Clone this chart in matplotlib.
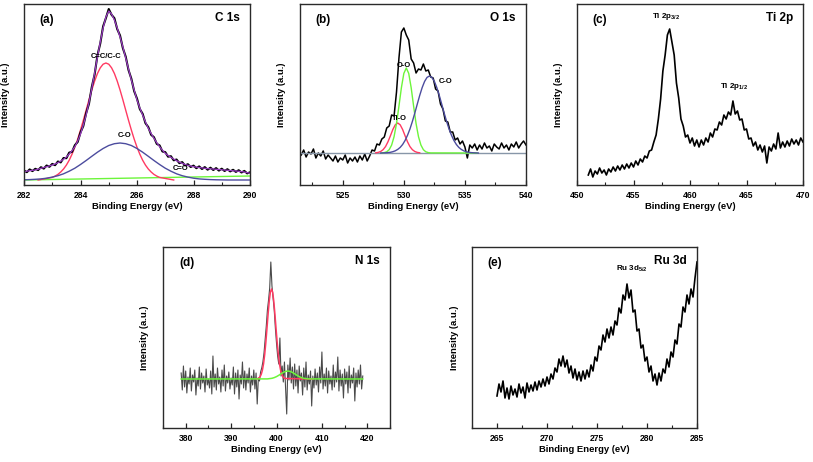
import matplotlib
matplotlib.use("Agg")
import matplotlib.pyplot as plt
import numpy as np
from matplotlib.ticker import MultipleLocator

plt.rcParams['font.family'] = ['Liberation Sans', 'DejaVu Sans']
plt.rcParams['font.weight'] = 'bold'
plt.rcParams['axes.labelweight'] = 'bold'
plt.rcParams['mathtext.fontset'] = 'custom'
plt.rcParams['mathtext.rm'] = 'Liberation Sans:bold'
plt.rcParams['mathtext.default'] = 'rm'

# ---- (a) C 1s ----
c1s_counts = [14.5, 12.8, 15.6, 13.9, 16.2, 14.9, 17.8, 16.4, 19.5, 18.2,
              21.1, 19.8, 23.5, 22.6, 27.0, 26.8, 32.4, 33.1, 39.8, 43.0,
              52.6, 59.0, 71.8, 81.2, 98.1, 110.6, 129.7, 141.5, 158.6, 167.0,
              176.0, 170.2, 166.8, 155.9, 149.5, 136.8, 128.4, 114.9, 106.3, 93.8,
              86.4, 75.9, 71.2, 61.8, 57.9, 50.2, 47.8, 41.1, 39.6, 33.5,
              32.9, 28.3, 28.8, 24.7, 25.5, 21.8, 22.9, 19.5, 20.8, 18.0,
              19.4, 16.8, 18.6, 16.0, 17.9, 15.3, 17.3, 15.0, 16.9, 14.4,
              16.3, 14.0, 15.8, 13.6, 15.2, 13.1, 14.8, 12.5, 14.1, 11.6,
              12.7]
c1s_envelope = [13.3, 13.8, 14.3, 14.7, 15.0, 15.8, 16.7, 17.5, 18.3, 19.1,
                20.0, 21.0, 22.3, 23.8, 25.7, 28.0, 31.0, 34.3, 38.3, 44.0,
                51.0, 60.0, 70.0, 82.5, 96.7, 112, 128, 143, 157, 168,
                174, 171, 165, 157, 148, 138, 127, 116, 105, 95,
                85, 77, 70, 63, 56.7, 51.5, 46.7, 42.3, 38.3, 34.8,
                31.7, 29.5, 27.7, 25.9, 24.3, 22.9, 21.7, 20.6, 19.7, 19.0,
                18.3, 17.9, 17.5, 17.1, 16.7, 16.4, 16.2, 16.0, 15.7, 15.5,
                15.2, 15.0, 14.7, 14.5, 14.2, 14.0, 13.7, 13.4, 13.0, 12.4,
                11.7]
c1s_cc = [5.0,
          7.6, 8.9, 10.6, 13.0, 16.0, 19.9, 24.8, 30.8, 37.8, 45.9,
          55.0, 64.7, 74.9, 85.2, 95.0, 103.9, 111.5, 117.2, 120.8, 122.0,
          120.8, 117.2, 111.5, 103.9, 95.0, 85.2, 74.9, 64.7, 55.0, 45.9,
          37.8, 30.8, 24.8, 19.9, 16.0, 13.0, 10.6, 8.9, 7.6,
          5.0]
c1s_co = [5.2, 5.4, 5.7, 6.1, 6.8, 7.9, 9.3, 11.2, 13.8, 16.8,
          20.5, 24.5, 28.7, 32.8, 36.5, 39.5, 41.3, 42.0, 41.3, 39.5,
          36.5, 32.8, 28.7, 24.5, 20.5, 16.8, 13.8, 11.2, 9.3, 7.9,
          6.8, 6.1, 5.7, 5.4, 5.2, 5.1, 5.0, 5.0, 5.0, 5.0,
          5.0]
c1s_bg_energy = [282.0, 290.0]
c1s_bg = [5.0, 9.0]

# ---- (b) O 1s ----
o1s_counts = [30, 35, 28, 33, 31, 36, 27, 32, 29, 34,
              26, 30, 27, 24, 29, 23, 27, 25, 30, 22,
              27, 24, 28, 23, 29, 25, 31, 24, 29, 35,
              34, 41, 40, 46, 48, 57, 59, 70, 69, 93,
              127, 153, 157, 150, 145, 126, 122, 112, 116, 115,
              121, 114, 115, 108, 107, 96, 94, 81, 76, 64,
              63, 53, 53, 45, 47, 41, 44, 38, 27, 40,
              37, 41, 35, 40, 36, 42, 37, 39, 34, 41,
              38, 36, 42, 37, 40, 35, 41, 38, 43, 37,
              41, 44, 40]
o1s_tio = [32.2, 32.6, 33.5, 35.3, 38.4, 43.2, 49.2, 55.5, 60.2, 62.0,
           60.2, 55.5, 49.2, 43.2, 38.4, 35.3, 33.5, 32.6, 32.2]
o1s_oo = [32.1, 32.4, 33.2, 35.3, 39.9, 48.3, 61.5, 78.9, 97.3, 111.6, 117.0,
          111.6, 97.3, 78.9, 61.5, 48.3, 39.9, 35.3, 33.2, 32.4, 32.1, 32.0]
o1s_co = [32.0, 32.1, 32.2, 32.4, 32.7, 33.3, 34.2, 35.6, 37.6, 40.5,
          44.5, 49.7, 56.0, 63.6, 72.0, 80.9, 89.6, 97.4, 103.6, 107.6, 109.0,
          107.6, 103.6, 97.4, 89.6, 80.9, 72.0, 63.6, 56.0, 49.7, 44.5,
          40.5, 37.6, 35.6, 34.2, 33.3, 32.7, 32.4, 32.2, 32.1, 32.0]
o1s_bg_energy = [521.5, 540.0]
o1s_bg = [32.0, 32.0]

# ---- (c) Ti 2p ----
ti2p_counts = [10, 16, 8, 14, 11, 17, 12, 15, 10, 16,
               13, 18, 14, 19, 15, 20, 16, 21, 17, 22,
               18, 24, 20, 26, 23, 29, 27, 34, 35, 43,
               50, 66, 86, 114, 130, 150, 156, 143, 130, 102,
               87, 66, 59, 48, 50, 42, 47, 39, 45, 38,
               45, 40, 47, 43, 52, 48, 56, 55, 63, 60,
               70, 66, 73, 70, 84, 71, 74, 65, 66, 55,
               56, 46, 47, 39, 43, 35, 40, 33, 39, 22,
               38, 34, 41, 36, 52, 37, 43, 38, 44, 39,
               46, 41, 45, 40, 47, 43]

# ---- (d) N 1s ----
n1s_counts = [55, 38, 62, 41, 57, 35, 51, 44, 60, 37,
              53, 46, 58, 33, 50, 42, 61, 39, 55, 45,
              52, 36, 59, 43, 49, 40, 57, 34, 72, 41,
              54, 38, 60, 44, 51, 36, 58, 42, 63, 37,
              52, 45, 56, 39, 50, 43, 61, 34, 55, 41,
              58, 29, 53, 44, 66, 40, 57, 38, 54, 45,
              60, 36, 52, 43, 58, 39, 55, 24, 50, 47,
              56, 60, 66, 75, 88, 102, 118, 128, 140, 166,
              142, 130, 118, 100, 85, 72, 64, 90, 52, 62,
              46, 66, 40, 14, 63, 48, 70, 45, 61, 39,
              64, 42, 58, 35, 62, 47, 55, 33, 60, 41,
              66, 38, 53, 44, 57, 22, 52, 40, 59, 43,
              55, 36, 61, 45, 76, 39, 54, 42, 60, 35,
              57, 44, 52, 38, 63, 41, 56, 46, 71, 37,
              58, 42, 54, 30, 59, 44, 56, 35, 62, 40,
              53, 45, 60, 27, 55, 41, 58, 44, 63, 39,
              52]
n1s_fit = [49.0, 49.5, 50.1, 51.4, 53.8, 57.9, 64.3, 73.5, 85.5, 99.5, 114.0,
           126.9, 135.8, 139.0, 135.8, 126.9, 114.0, 99.5, 85.5, 73.5, 64.3,
           57.9, 53.8, 51.4, 50.1, 49.5, 49.0]
n1s_fit_energy = np.r_[395.6, np.linspace(395.9, 401.9, 25), 408.0]
n1s_bump = [49.0, 49.1, 49.4, 49.7, 50.4, 51.4, 52.7, 54.2, 55.6, 56.6, 57.0,
            56.6, 55.6, 54.2, 52.7, 51.4, 50.4, 49.7, 49.4, 49.1, 49.0]
n1s_bump_energy = np.r_[379.0, np.linspace(398.0, 407.0, 19), 419.0]

# ---- (e) Ru 3d ----
ru3d_counts = [32, 44, 36, 47, 30, 40, 29, 42, 33, 39,
               31, 44, 35, 41, 30, 45, 36, 43, 37, 46,
               38, 47, 41, 49, 42, 51, 44, 54, 49, 60,
               56, 69, 62, 72, 61, 68, 55, 62, 50, 59,
               48, 56, 47, 57, 49, 58, 51, 63, 57, 71,
               67, 82, 78, 93, 86, 99, 90, 101, 93, 107,
               103, 120, 115, 133, 128, 144, 130, 138, 116, 118,
               97, 99, 80, 83, 67, 71, 56, 62, 47, 54,
               43, 55, 47, 59, 55, 69, 61, 76, 71, 88,
               84, 104, 101, 121, 116, 133, 124, 139, 131, 150,
               166]

c1s_energy = np.linspace(282.0, 290.0, len(c1s_counts))
c1s_cc_energy = np.r_[282.5, np.linspace(283.0, 286.8, 39), 287.3]
c1s_co_energy = np.linspace(282.0, 290.0, len(c1s_co))
o1s_energy = np.linspace(521.6, 540.0, len(o1s_counts))
o1s_tio_energy = np.linspace(527.7, 531.3, len(o1s_tio))
o1s_oo_energy = np.r_[np.linspace(528.2, 532.2, 21), 536.0]
o1s_co_energy = np.linspace(528.1, 536.1, len(o1s_co))
ti2p_energy = np.linspace(451.0, 470.0, len(ti2p_counts))
n1s_energy = np.linspace(379.0, 419.0, len(n1s_counts))
ru3d_energy = np.linspace(265.0, 285.0, len(ru3d_counts))

RED = '#ff3a62'
GREEN = '#6cf53a'
BLUE = '#4c4c9e'
PURPLE = '#9a3dc4'
GREYBLUE = '#8796a8'

fig = plt.figure(figsize=(8.13, 4.62), dpi=100)
W, H = 813.0, 462.0


def panel(left, top, width, height):
    return fig.add_axes([left / W, 1 - (top + height) / H, width / W, height / H])


def style(ax, xlim, major, minor, tag, element):
    ax.set_xlim(*xlim)
    ax.set_ylim(0, 181)
    ax.set_yticks([])
    ax.xaxis.set_major_locator(MultipleLocator(major))
    ax.xaxis.set_minor_locator(MultipleLocator(minor))
    ax.tick_params(axis='x', which='both', direction='in', top=False, color='#222222')
    ax.tick_params(axis='x', which='major', length=3.5, width=0.9, labelsize=6.2, pad=4)
    ax.tick_params(axis='x', which='minor', length=2.0, width=0.8)
    for s in ax.spines.values():
        s.set_linewidth(1.0)
        s.set_color('#2a2a2a')
    ax.set_xlabel('Binding Energy (eV)', fontsize=6.8, labelpad=2)
    ax.set_ylabel('Intensity (a.u.)', fontsize=6.8)
    ax.yaxis.set_label_coords(-0.06, 0.5)
    ax.text(0.07, 0.91, tag, transform=ax.transAxes, fontsize=8.5, ha='left', va='center')
    ax.text(0.955, 0.92, element, transform=ax.transAxes, fontsize=8.5, ha='right', va='center')


# (a)
ax = panel(24, 4, 226, 181)
ax.plot(c1s_bg_energy, c1s_bg, color=GREEN, lw=1.0)
ax.plot(c1s_cc_energy, c1s_cc, color=RED, lw=1.0)
ax.plot(c1s_co_energy, c1s_co, color=BLUE, lw=1.0)
ax.plot(c1s_energy, c1s_counts, color='black', lw=1.5)
ax.plot(c1s_energy, c1s_envelope, color=PURPLE, lw=0.9)
ax.text(284.92, 128, 'C=C/C-C', fontsize=5.5, ha='center', va='center')
ax.text(285.57, 49, 'C-O', fontsize=5.5, ha='center', va='center')
ax.text(287.56, 16, 'C=O', fontsize=5.5, ha='center', va='center')
style(ax, (282, 290), 2, 1, '(a)', 'C 1s')

# (b)
ax = panel(300, 4, 226, 181)
ax.plot(o1s_energy, o1s_counts, color='black', lw=1.1)
ax.plot(o1s_bg_energy, o1s_bg, color=GREYBLUE, lw=1.0)
ax.plot(o1s_tio_energy, o1s_tio, color=RED, lw=1.0)
ax.plot(o1s_oo_energy, o1s_oo, color=GREEN, lw=1.0)
ax.plot(o1s_co_energy, o1s_co, color=BLUE, lw=1.0)
ax.text(530.0, 119, 'O-O', fontsize=5.5, ha='center', va='center')
ax.text(529.6, 66, 'Ti-O', fontsize=5.5, ha='center', va='center')
ax.text(533.4, 103, 'C-O', fontsize=5.5, ha='center', va='center')
style(ax, (521.5, 540), 5, 2.5, '(b)', 'O 1s')

# (c)
ax = panel(577, 4, 226, 181)
ax.plot(ti2p_energy, ti2p_counts, color='black', lw=1.2)
ax.text(457.9, 168, r'Ti 2p$_{3/2}$', fontsize=5.8, ha='center', va='center')
ax.text(463.9, 98, r'Ti 2p$_{1/2}$', fontsize=5.8, ha='center', va='center')
style(ax, (450, 470), 5, 2.5, '(c)', 'Ti 2p')

# (d)
ax = panel(163, 247, 227, 181)
ax.plot(n1s_energy, n1s_counts, color='#4a4a4a', lw=0.8)
ax.plot(n1s_fit_energy, n1s_fit, color=RED, lw=1.1)
ax.plot(n1s_bump_energy, n1s_bump, color=GREEN, lw=1.1)
style(ax, (375, 425), 10, 5, '(d)', 'N 1s')

# (e)
ax = panel(472, 247, 225, 181)
ax.plot(ru3d_energy, ru3d_counts, color='black', lw=1.2)
ax.text(278.5, 159, r'Ru 3d$_{5/2}$', fontsize=5.8, ha='center', va='center')
style(ax, (262.5, 285), 5, 2.5, '(e)', 'Ru 3d')

fig.savefig('out.png', dpi=100)
